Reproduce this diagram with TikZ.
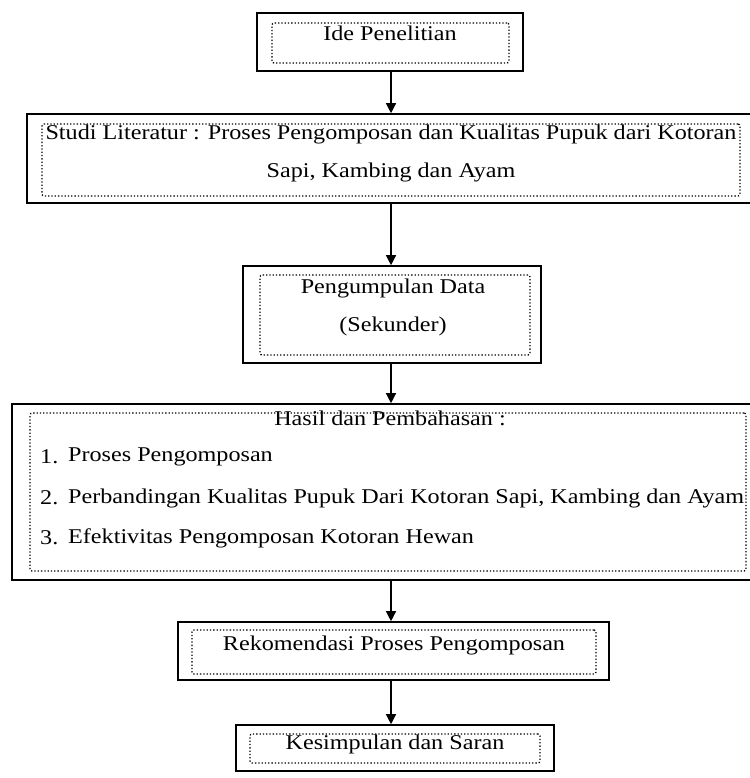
\documentclass[tikz,border=0pt]{standalone}
\usepackage{fontspec}
\setmainfont{Liberation Serif}[FakeStretch=1.15]
\usetikzlibrary{arrows.meta}
\tikzset{
  outerbox/.style={draw, line width=1.6pt, inner sep=0pt},
  innerbox/.style={draw, dotted, line width=1.3pt, rounded corners=2pt, inner sep=0pt},
  txt/.style={font=\fontsize{21}{24}\selectfont, inner sep=0pt},
  flow/.style={line width=1.3pt, -{Triangle[length=10pt,width=10pt]}}
}
\begin{document}
\begin{tikzpicture}[x=1pt,y=-1pt]
  \useasboundingbox (0,0) rectangle (749,778);
  \coordinate (axis) at (391,0);
  % Ide Penelitian
  \node [outerbox, minimum width=266pt, minimum height=58pt] (ideout) at (390,42) {};
  \node [innerbox, minimum width=237pt, minimum height=40pt] (idein) at (390.5,43) {};
  \node [txt] (ide) at (390,33) {Ide Penelitian};
  % Studi Literatur
  \node [outerbox, minimum width=738pt, minimum height=89pt] (studiout) at (396,158.5) {};
  \node [innerbox, minimum width=698pt, minimum height=72pt] (studiin) at (391,160) {};
  \node [txt] (studi1) at (391,134) {Studi Literatur : Proses Pengomposan dan Kualitas Pupuk dari Kotoran};
  \node [txt] (studi2) at (391,172) {Sapi, Kambing dan Ayam};
  % Pengumpulan Data
  \node [outerbox, minimum width=298pt, minimum height=97pt] (dataout) at (392,314.5) {};
  \node [innerbox, minimum width=270pt, minimum height=80pt] (datain) at (395,315) {};
  \node [txt] (data1) at (393,288) {Pengumpulan Data};
  \node [txt] (data2) at (393,326) {(Sekunder)};
  % Hasil dan Pembahasan
  \node [outerbox, minimum width=753pt, minimum height=176pt] (hasilout) at (388.5,492) {};
  \node [innerbox, minimum width=716pt, minimum height=158pt] (hasilin) at (388,492) {};
  \node [txt] (hasil) at (390,418) {Hasil dan Pembahasan :};
  \node [txt, anchor=west] (num1) at (40,457) {1.};
  \node [txt, anchor=west] (item1) at (68,457) {Proses Pengomposan};
  \node [txt, anchor=west] (num2) at (40,498) {2.};
  \node [txt, anchor=west] (item2) at (68,498) {Perbandingan Kualitas Pupuk Dari Kotoran Sapi, Kambing dan Ayam};
  \node [txt, anchor=west] (num3) at (40,538) {3.};
  \node [txt, anchor=west] (item3) at (68,538) {Efektivitas Pengomposan Kotoran Hewan};
  % Rekomendasi
  \node [outerbox, minimum width=431pt, minimum height=58pt] (rekout) at (393.5,651) {};
  \node [innerbox, minimum width=404pt, minimum height=44pt] (rekin) at (394,652) {};
  \node [txt] (rek) at (394,645) {Rekomendasi Proses Pengomposan};
  % Kesimpulan
  \node [outerbox, minimum width=318pt, minimum height=46pt] (kesout) at (395,748) {};
  \node [innerbox, minimum width=290pt, minimum height=29pt] (kesin) at (395,748.5) {};
  \node [txt] (kes) at (395,744) {Kesimpulan dan Saran};
  % arrows
  \draw [flow] (axis |- ideout.south) -- (axis |- studiout.north);
  \draw [flow] (axis |- studiout.south) -- (axis |- dataout.north);
  \draw [flow] (axis |- dataout.south) -- (axis |- hasilout.north);
  \draw [flow] (axis |- hasilout.south) -- (axis |- rekout.north);
  \draw [flow] (axis |- rekout.south) -- (axis |- kesout.north);
\end{tikzpicture}
\end{document}
